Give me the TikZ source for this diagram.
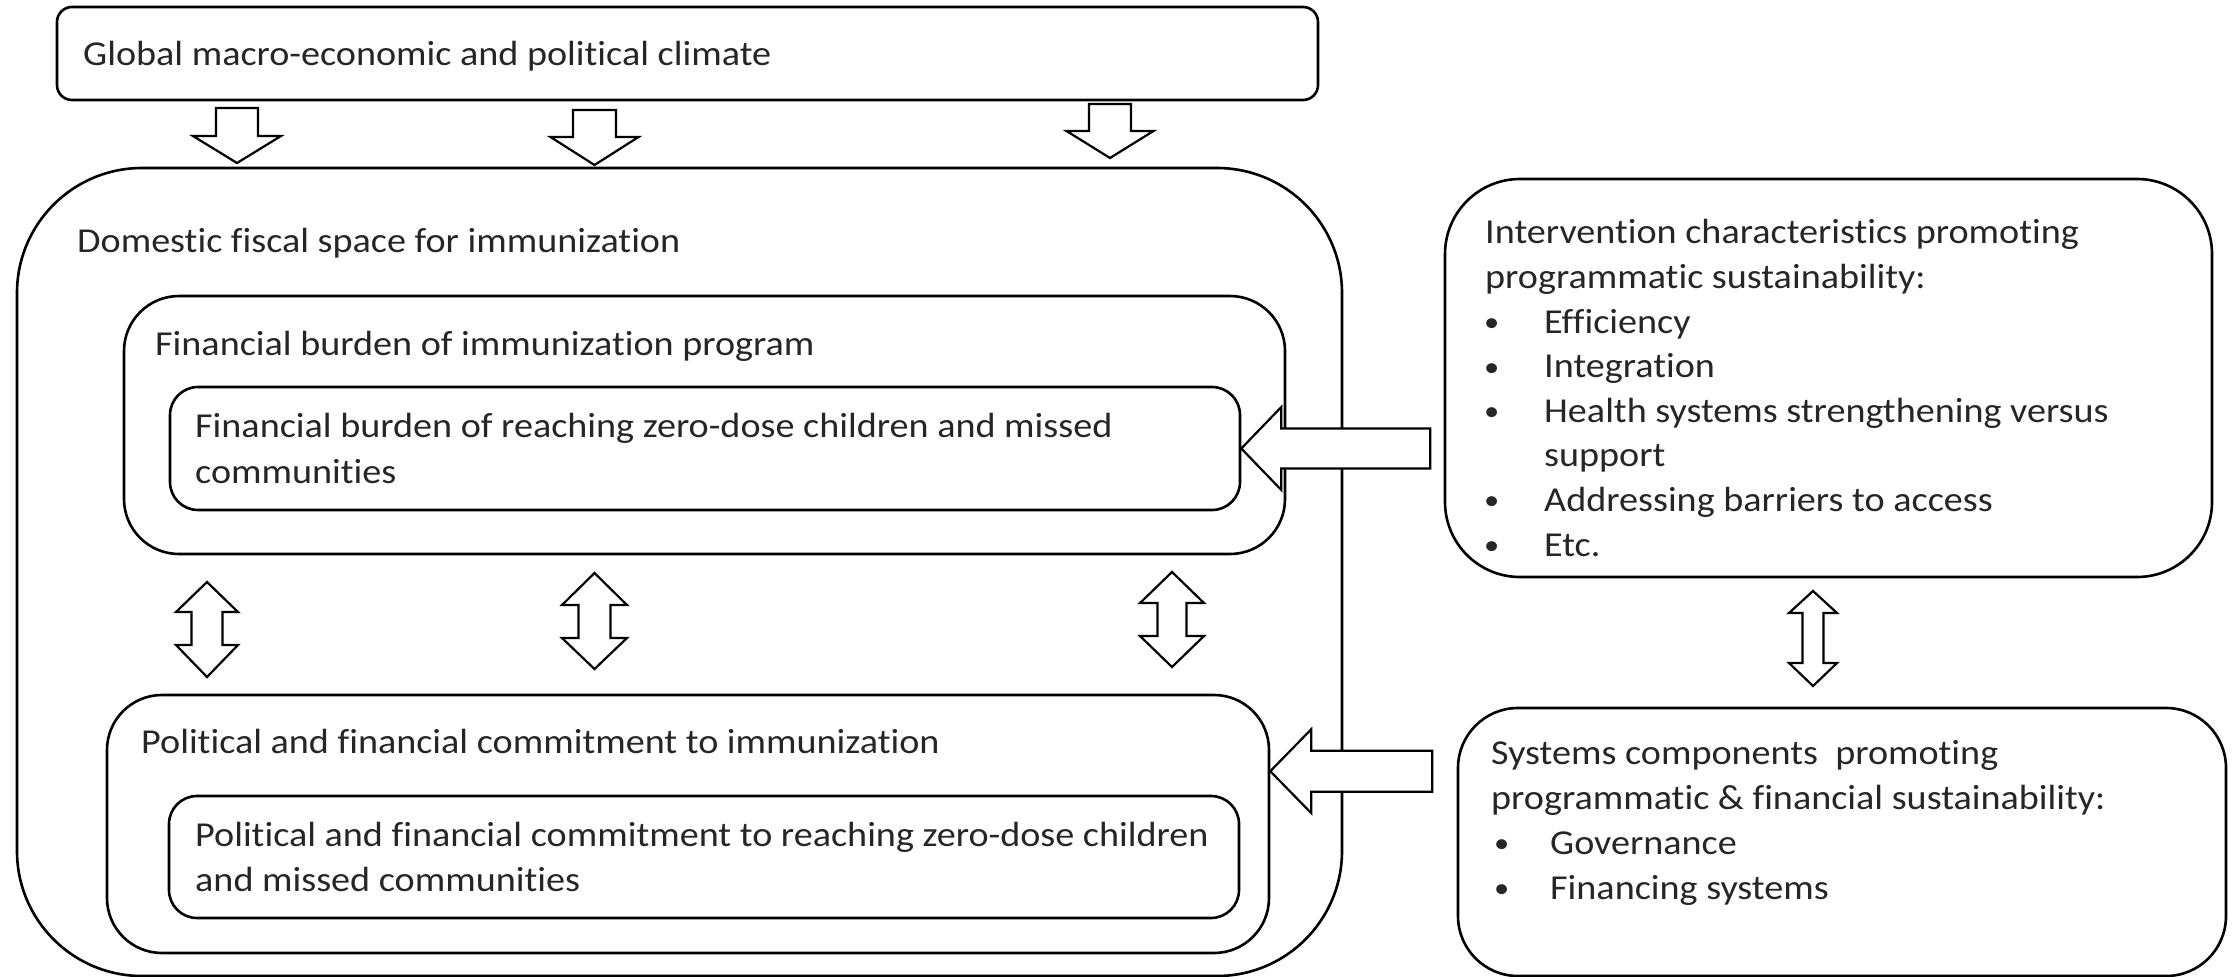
\documentclass[tikz,border=0pt]{standalone}
\usepackage{fontspec}
\setmainfont{Carlito}[FakeStretch=1.09, Ligatures=NoCommon]
\usetikzlibrary{calc}
\newcommand\DownArr[6]{%
  \draw[barrow] (#1-#5,#2) -- (#1+#5,#2) -- (#1+#5,#3) -- (#1+#6,#3) -- (#1,#4)
    -- (#1-#6,#3) -- (#1-#5,#3) -- cycle;}
\newcommand\DblArr[7]{%
  \draw[barrow] (#1,#2) -- (#1+#7,#3) -- (#1+#6,#3) -- (#1+#6,#4) -- (#1+#7,#4) -- (#1,#5)
    -- (#1-#7,#4) -- (#1-#6,#4) -- (#1-#6,#3) -- (#1-#7,#3) -- cycle;}
\newcommand\smallbul{\raisebox{1.5pt}{\fontsize{28}{28}\selectfont\textbullet}}
\newcommand\bul{\makebox[59pt][l]{\hspace{-1pt}\smallbul}}
\newcommand\bulb{\makebox[59pt][l]{\hspace{3pt}\smallbul}}
\begin{document}
\begin{tikzpicture}[x=1pt,y=-1pt,
  box/.style={draw=black, line width=2.6pt, fill=none, inner sep=0pt},
  barrow/.style={draw=black, fill=white, line width=2.2pt, line join=miter},
  txt/.style={anchor=base west, inner sep=0pt, font=\fontsize{35}{45}\selectfont, align=left, text=black!85}]
\useasboundingbox (0,0) rectangle (2233,977);
% boxes
\node[box, rounded corners=15pt, minimum width=1261pt, minimum height=93pt] (glob) at (687.5,53.5) {};
\node[box, rounded corners=125pt, minimum width=1325pt, minimum height=808pt] (dom) at (679.5,572) {};
\node[box, rounded corners=55pt, minimum width=1161pt, minimum height=258pt] (fb) at (704.5,425) {};
\node[box, rounded corners=28pt, minimum width=1070pt, minimum height=123pt] (in1) at (705,448.5) {};
\node[box, rounded corners=55pt, minimum width=1162pt, minimum height=258pt] (pfc) at (688,824) {};
\node[box, rounded corners=28pt, minimum width=1070pt, minimum height=122pt] (in2) at (704,857) {};
\node[box, rounded corners=75pt, minimum width=767pt, minimum height=398pt] (r1) at (1828.5,378) {};
\node[box, rounded corners=60pt, minimum width=768pt, minimum height=268pt] (r2) at (1842,842) {};
% texts (base anchor = baseline of last line)
\node[txt] (tglob) at (83,65) {Global macro-economic and political climate};
\node[txt] (tdom) at (77,252) {Domestic fiscal space for immunization};
\node[txt] (tfb) at (155,355) {Financial burden of immunization program};
\node[txt, font=\fontsize{35}{46}\selectfont] (tin1) at (195,483) {Financial burden of reaching zero-dose children and missed\\communities};
\node[txt] (tpfc) at (141,753) {Political and financial commitment to immunization};
\node[txt] (tin2) at (195,891) {Political and financial commitment to reaching zero-dose children\\and missed communities};
\node[txt, font=\fontsize{35}{44.6}\selectfont] (tr1) at (1485,556) {Intervention characteristics promoting\\programmatic sustainability:\\\bul Efficiency\\\bul Integration\\\bul Health systems strengthening versus\\\hspace*{59pt}support\\\bul Addressing barriers to access\\\bul Etc.};
\node[txt] (tr2) at (1491,899) {Systems components\ \ promoting\\programmatic \& financial sustainability:\\\bulb Governance\\\bulb Financing systems};
% down arrows from global climate
\DownArr{237}{108}{136}{163}{21}{44}
\DownArr{594.5}{110}{137}{165}{21.5}{44}
\DownArr{1110}{104}{131}{158}{21}{43.5}
% double arrows
\DblArr{207}{582}{612}{645}{677}{15.5}{31}
\DblArr{594.5}{573}{605}{638}{669}{16}{32.5}
\DblArr{1172}{572}{603}{636}{667}{14.5}{32}
\DblArr{1813}{591}{613}{663}{686}{10.5}{24}
% left arrows
\draw[barrow] (in1.east) -- ++(40,-41.5) -- ++(0,21.5) -- ++(149,0) -- ++(0,40) -- ++(-149,0) -- ++(0,21.5) -- cycle;
\draw[barrow] (pfc.north east) ++(0,77.5) -- ++(41,-42) -- ++(0,21.5) -- ++(121,0) -- ++(0,41) -- ++(-121,0) -- ++(0,21.5) -- cycle;
\end{tikzpicture}
\end{document}
